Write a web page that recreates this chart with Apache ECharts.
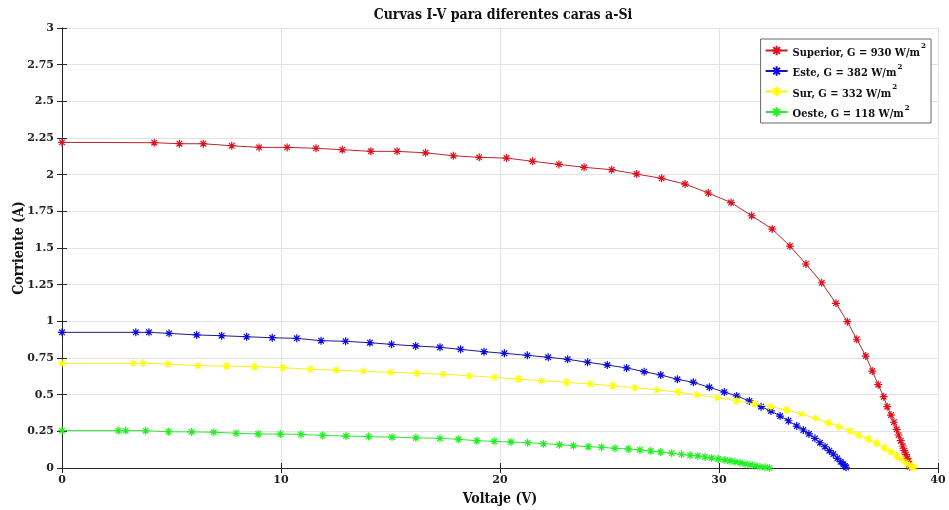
<!DOCTYPE html>
<html>
<head>
<meta charset="utf-8">
<script src="https://cdn.jsdelivr.net/npm/echarts@6/dist/echarts.min.js"></script>
<style>
html,body{margin:0;padding:0;background:#fff;}
#chart{width:949px;height:510px;}
</style>
</head>
<body>
<div id="chart"></div>
<script>
// ---- Data ----
var titleText = 'Curvas I-V para diferentes caras a-Si';
var xName = 'Voltaje (V)';
var yName = 'Corriente (A)';
var seriesNames = ['Superior, G = 930 W/m²', 'Este, G = 382 W/m²', 'Sur, G = 332 W/m²', 'Oeste, G = 118 W/m²'];
var legendLabels = ['{t|Superior, G = 930 W/m}{s|2}', '{t|Este, G = 382 W/m}{s|2}', '{t|Sur, G = 332 W/m}{s|2}', '{t|Oeste, G = 118 W/m}{s|2}'];

var xTicks = [0, 10, 20, 30, 40];
var yTicks = [0, 0.25, 0.5, 0.75, 1, 1.25, 1.5, 1.75, 2, 2.25, 2.5, 2.75, 3];

var supV = [0, 4.21, 5.36, 6.45, 7.75, 9.0, 10.28, 11.6, 12.8, 14.1, 15.3, 16.6, 17.87, 19.05, 20.3, 21.49, 22.69, 23.84, 25.1, 26.24, 27.38, 28.45, 29.51, 30.55, 31.49, 32.43, 33.24, 33.97, 34.69, 35.34, 35.86, 36.29, 36.7, 37.0, 37.27, 37.52, 37.68, 37.85, 37.99, 38.11, 38.2, 38.3, 38.39, 38.46, 38.54, 38.6, 38.64, 38.68, 38.71];
var supI = [2.22, 2.218, 2.211, 2.211, 2.197, 2.186, 2.186, 2.18, 2.17, 2.159, 2.159, 2.149, 2.129, 2.118, 2.113, 2.091, 2.07, 2.05, 2.034, 2.004, 1.975, 1.936, 1.875, 1.81, 1.72, 1.629, 1.513, 1.391, 1.263, 1.123, 0.998, 0.878, 0.763, 0.661, 0.568, 0.486, 0.418, 0.361, 0.312, 0.264, 0.225, 0.186, 0.15, 0.118, 0.091, 0.066, 0.045, 0.025, 0.008];

var esteV = [0, 3.37, 3.97, 4.89, 6.15, 7.29, 8.43, 9.6, 10.72, 11.83, 12.95, 14.06, 15.05, 16.15, 17.26, 18.2, 19.27, 20.2, 21.25, 22.2, 23.09, 24.0, 24.9, 25.78, 26.58, 27.34, 28.1, 28.83, 29.56, 30.24, 30.81, 31.39, 31.92, 32.37, 32.79, 33.17, 33.55, 33.85, 34.11, 34.38, 34.61, 34.84, 35.04, 35.22, 35.4, 35.56, 35.68, 35.75, 35.8];
var esteI = [0.925, 0.925, 0.925, 0.918, 0.907, 0.902, 0.895, 0.888, 0.884, 0.868, 0.864, 0.854, 0.843, 0.832, 0.823, 0.809, 0.793, 0.782, 0.768, 0.755, 0.741, 0.721, 0.702, 0.682, 0.657, 0.634, 0.605, 0.584, 0.55, 0.518, 0.491, 0.457, 0.418, 0.389, 0.354, 0.322, 0.286, 0.259, 0.232, 0.202, 0.172, 0.145, 0.118, 0.095, 0.066, 0.043, 0.025, 0.014, 0.005];

var surV = [0, 3.26, 3.71, 4.83, 6.2, 7.52, 8.78, 10.08, 11.32, 12.51, 13.76, 14.98, 16.2, 17.41, 18.6, 19.73, 20.84, 21.9, 23.04, 24.11, 25.15, 26.16, 27.18, 28.14, 29.01, 29.92, 30.81, 31.64, 32.37, 33.09, 33.77, 34.41, 34.99, 35.48, 35.98, 36.36, 36.82, 37.2, 37.55, 37.85, 38.11, 38.34, 38.54, 38.7, 38.82, 38.9];
var surI = [0.714, 0.714, 0.714, 0.709, 0.697, 0.695, 0.691, 0.684, 0.673, 0.668, 0.659, 0.652, 0.646, 0.639, 0.629, 0.618, 0.607, 0.595, 0.584, 0.573, 0.561, 0.547, 0.532, 0.518, 0.498, 0.479, 0.459, 0.436, 0.418, 0.395, 0.368, 0.339, 0.309, 0.282, 0.252, 0.225, 0.198, 0.169, 0.136, 0.111, 0.082, 0.059, 0.036, 0.02, 0.009, 0.002];

var oesteV = [0, 2.57, 2.91, 3.82, 4.87, 5.92, 6.93, 7.95, 8.96, 9.97, 10.91, 11.9, 12.97, 14.0, 15.07, 16.16, 17.26, 18.1, 18.94, 19.74, 20.5, 21.26, 21.98, 22.71, 23.35, 24.03, 24.64, 25.25, 25.86, 26.39, 26.88, 27.33, 27.84, 28.29, 28.68, 29.03, 29.36, 29.67, 29.97, 30.27, 30.5, 30.73, 30.96, 31.19, 31.42, 31.64, 31.87, 32.1, 32.3];
var oesteI = [0.255, 0.255, 0.255, 0.254, 0.247, 0.246, 0.244, 0.237, 0.232, 0.231, 0.229, 0.222, 0.218, 0.214, 0.21, 0.206, 0.202, 0.196, 0.186, 0.182, 0.177, 0.173, 0.166, 0.159, 0.152, 0.145, 0.141, 0.134, 0.13, 0.123, 0.116, 0.109, 0.1, 0.093, 0.087, 0.082, 0.075, 0.068, 0.061, 0.055, 0.048, 0.043, 0.036, 0.029, 0.022, 0.016, 0.009, 0.005, 0.0];

// ---- Styles ----
var lineColors = ['#b8282a', '#1c1c8a', '#f2f21a', '#2ee82e'];
var markColors = ['#e0101c', '#0a0ae6', '#ffff00', '#22f022'];
var FONT = '"DejaVu Serif", serif';
var FONTC = '"DejaVu Serif Condensed", "DejaVu Serif", serif';
var asterisk = 'path://M0,-5L0,5M-5,0L5,0M-3.5,-3.5L3.5,3.5M-3.5,3.5L3.5,-3.5';

function zip(a, b) { var r = []; for (var i = 0; i < a.length; i++) r.push([a[i], b[i]]); return r; }
var allData = [zip(supV, supI), zip(esteV, esteI), zip(surV, surI), zip(oesteV, oesteI)];

var series = allData.map(function (d, k) {
  return {
    name: seriesNames[k],
    type: 'line',
    data: d,
    symbol: asterisk,
    symbolSize: 8,
    showAllSymbol: true,
    lineStyle: { color: lineColors[k], width: 1 },
    itemStyle: { color: markColors[k], borderColor: markColors[k], borderWidth: 1.2 },
    emphasis: { disabled: true },
    z: 5 + k
  };
});

var axisCommon = {
  axisLine: { show: true, lineStyle: { color: '#262626', width: 1 } },
  axisTick: { show: true, inside: true, length: 5, lineStyle: { color: '#262626' } }
};

var chart = echarts.init(document.getElementById('chart'), null, { renderer: 'canvas' });
chart.setOption({
  animation: false,
  backgroundColor: '#fff',
  title: {
    text: titleText,
    left: 498, textAlign: 'center', top: 3,
    textStyle: { fontFamily: FONTC, fontWeight: 'bold', fontSize: 14, color: '#111' }
  },
  grid: { left: 62, right: 11, top: 28, bottom: 42, containLabel: false, outerBoundsMode: 'none' },
  legend: {
    orient: 'vertical',
    right: 18, top: 39,
    padding: [3, 5, 3, 4],
    itemGap: 4,
    itemWidth: 22, itemHeight: 12,
    backgroundColor: '#fff',
    borderColor: '#666', borderWidth: 1,
    data: seriesNames,
    formatter: function (n) { return legendLabels[seriesNames.indexOf(n)]; },
    textStyle: {
      fontFamily: FONTC, fontWeight: 'bold', fontSize: 11, color: '#111',
      rich: {
        t: { fontFamily: FONTC, fontWeight: 'bold', fontSize: 11, color: '#111', padding: [5, 0, 0, 0] },
        s: { fontFamily: FONTC, fontWeight: 'bold', fontSize: 8, color: '#111', padding: [0, 0, 9, 1] }
      }
    }
  },
  xAxis: [
    Object.assign({
      type: 'value', min: xTicks[0], max: xTicks[xTicks.length - 1], interval: xTicks[1] - xTicks[0],
      position: 'bottom',
      name: xName, nameLocation: 'middle', nameGap: 24, nameMoveOverlap: false,
      nameTextStyle: { fontFamily: FONTC, fontWeight: 'bold', fontSize: 14, color: '#111' },
      axisLabel: { fontFamily: FONT, fontWeight: 'bold', fontSize: 11, color: '#222', margin: 7 },
      splitLine: { show: true, lineStyle: { color: '#e3e3e3', width: 1 } }
    }, axisCommon),
    Object.assign({
      type: 'value', min: xTicks[0], max: xTicks[xTicks.length - 1], interval: xTicks[1] - xTicks[0],
      position: 'top', axisLabel: { show: false }, splitLine: { show: false }
    }, axisCommon)
  ],
  yAxis: [
    Object.assign({
      type: 'value', min: yTicks[0], max: yTicks[yTicks.length - 1], interval: yTicks[1] - yTicks[0],
      position: 'left',
      name: yName, nameLocation: 'middle', nameGap: 36, nameRotate: 90, nameMoveOverlap: false,
      nameTextStyle: { fontFamily: FONTC, fontWeight: 'bold', fontSize: 14, color: '#111' },
      axisLabel: { fontFamily: FONT, fontWeight: 'bold', fontSize: 11, color: '#222', margin: 8,
        formatter: function (v) { return String(v); } },
      splitLine: { show: true, lineStyle: { color: '#e3e3e3', width: 1 } }
    }, axisCommon),
    Object.assign({
      type: 'value', min: yTicks[0], max: yTicks[yTicks.length - 1], interval: yTicks[1] - yTicks[0],
      position: 'right', axisLabel: { show: false }, splitLine: { show: false }
    }, axisCommon)
  ],
  series: series
});
</script>
</body>
</html>
